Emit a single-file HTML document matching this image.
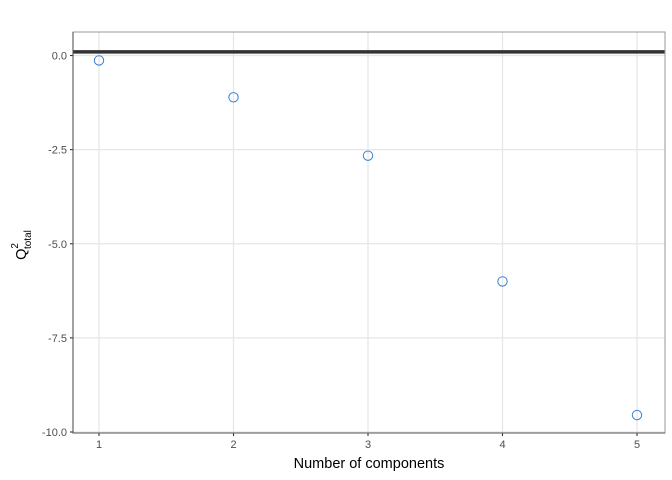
<!DOCTYPE html>
<html><head><meta charset="utf-8"><style>
body{margin:0;background:#fff}
svg{display:block;font-family:"Liberation Sans",sans-serif}
</style></head><body>
<svg id="c" width="672" height="480"></svg>
<script>
const components=[1,2,3,4,5];
const q2Values=[-0.13,-1.11,-2.66,-6.0,-9.55];
const yTicks=[0,-2.5,-5,-7.5,-10];
const yTickLabels=["0.0","-2.5","-5.0","-7.5","-10.0"];
const threshold=[0.0975];
const NS="http://www.w3.org/2000/svg";
const svg=document.getElementById('c');
const L=73,R=665,T=32,B=433;
function xs(v){return 99+(v-1)*134.5;}
function ys(v){return 55.5+(0-v)*(432-55.5)/10;}
function mk(t,a,p){const e=document.createElementNS(NS,t);for(const k in a)e.setAttribute(k,a[k]);(p||svg).appendChild(e);return e;}
const bg=mk('rect',{x:L,y:T,width:R-L,height:B-T,fill:'#fff'});


yTicks.forEach((v,i)=>{const y=ys(v);
const g=mk('line',{x1:L,x2:R,y1:y,y2:y,stroke:'#e6e6e6','stroke-width':1.3});
const tk=mk('line',{x1:L-3,x2:L,y1:y,y2:y,stroke:'#333','stroke-width':1.1});
const t=mk('text',{x:L-6,y:y+4,'text-anchor':'end','font-size':11,fill:'#4d4d4d'});t.textContent=yTickLabels[i];});
components.forEach(v=>{const x=xs(v);
const g=mk('line',{x1:x,x2:x,y1:T,y2:B,stroke:'#e6e6e6','stroke-width':1.3});
const tk=mk('line',{x1:x,x2:x,y1:B,y2:B+3,stroke:'#333','stroke-width':1.1});
const t=mk('text',{x:x,y:B+15,'text-anchor':'middle','font-size':11,fill:'#4d4d4d'});t.textContent=v;});
const th=mk('line',{x1:L,x2:R,y1:ys(threshold[0]),y2:ys(threshold[0]),stroke:'#333','stroke-width':3.5});


components.forEach((c,i)=>{const p=mk('circle',{cx:xs(c),cy:ys(q2Values[i]),r:4.7,fill:'none',stroke:'#3b7fd4','stroke-width':1});

});
const br=mk('rect',{x:L,y:T,width:R-L,height:B-T,fill:'none',stroke:'#999','stroke-width':1});


const ax=mk('polyline',{points:`${L},${T} ${L},${B} ${R},${B}`,fill:'none',stroke:'#555','stroke-width':1.1});


const xt=mk('text',{x:(L+R)/2,y:468,'text-anchor':'middle','font-size':14.5,fill:'#000'});xt.textContent='Number of components';


const yt=mk('text',{transform:'translate(26,245) rotate(-90)','font-size':14.5,fill:'#000','text-anchor':'middle'});


const s1=mk('tspan',{},yt);s1.textContent='Q';
const s2=mk('tspan',{dy:-8,'font-size':10},yt);s2.textContent='2';
const s3=mk('tspan',{dx:-6,dy:13,'font-size':10},yt);s3.textContent='total';
</script>
</body></html>
